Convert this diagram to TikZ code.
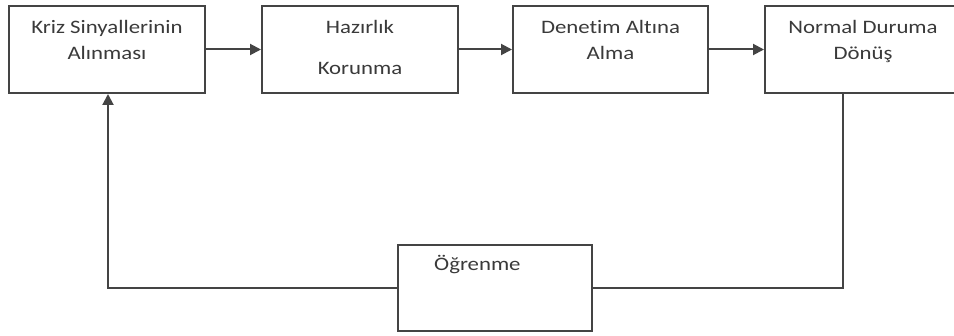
\documentclass[tikz,border=0pt]{standalone}
\usepackage{fontspec}
\setmainfont{Carlito}[FakeStretch=1.2,Ligatures=NoCommon]
\usetikzlibrary{arrows.meta,positioning,calc}
\definecolor{Frame}{HTML}{444444}
\definecolor{Ink}{HTML}{3A3A3A}
\tikzset{
 stagebox/.style={draw=Frame, line width=2pt, fill=white, minimum width=196pt, minimum height=87pt, inner sep=0pt},
 stagetext/.style={align=center, text=Ink, inner sep=0pt, font=\fontsize{19}{26}\selectfont},
 arrow/.style={-{Triangle[length=11pt,width=11pt]}, line width=2pt, draw=Frame},
 plainline/.style={line width=2pt, draw=Frame}
}
\begin{document}
\begin{tikzpicture}[x=1pt,y=-1pt]
\useasboundingbox[fill=white] (0,0) rectangle (954,336);
% top row
\node[stagebox] (kriz) at (107,49.5) {};
\node[stagebox] (hazir) at (360,49.5) {};
\node[stagebox, minimum width=195pt] (denetim) at (610.5,49.5) {};
\node[stagebox] (normal) at (863,49.5) {};
\node[stagetext, below=15pt of kriz.north] {Kriz Sinyallerinin\\Alınması};
\node[stagetext, below=15pt of hazir.north] {Hazırlık\\[15pt]Korunma};
\node[stagetext, below=15pt of denetim.north] {Denetim Altına\\Alma};
\node[stagetext, below=15pt of normal.north] {Normal Duruma\\Dönüş};
% feedback box
\node[stagebox, minimum width=194pt, minimum height=86pt] (ogren) at (495,288) {};
\node[stagetext, anchor=north west] at ($(ogren.north west)+(37,11)$) {Öğrenme};
% connectors
\draw[arrow] (kriz) -- (hazir);
\draw[arrow] (hazir) -- (denetim);
\draw[arrow] (denetim) -- (normal);
\draw[plainline] ([xshift=-20pt]normal.south) |- (ogren.east);
\draw[arrow] (ogren.west) -| ([xshift=1pt]kriz.south);
\end{tikzpicture}
\end{document}
